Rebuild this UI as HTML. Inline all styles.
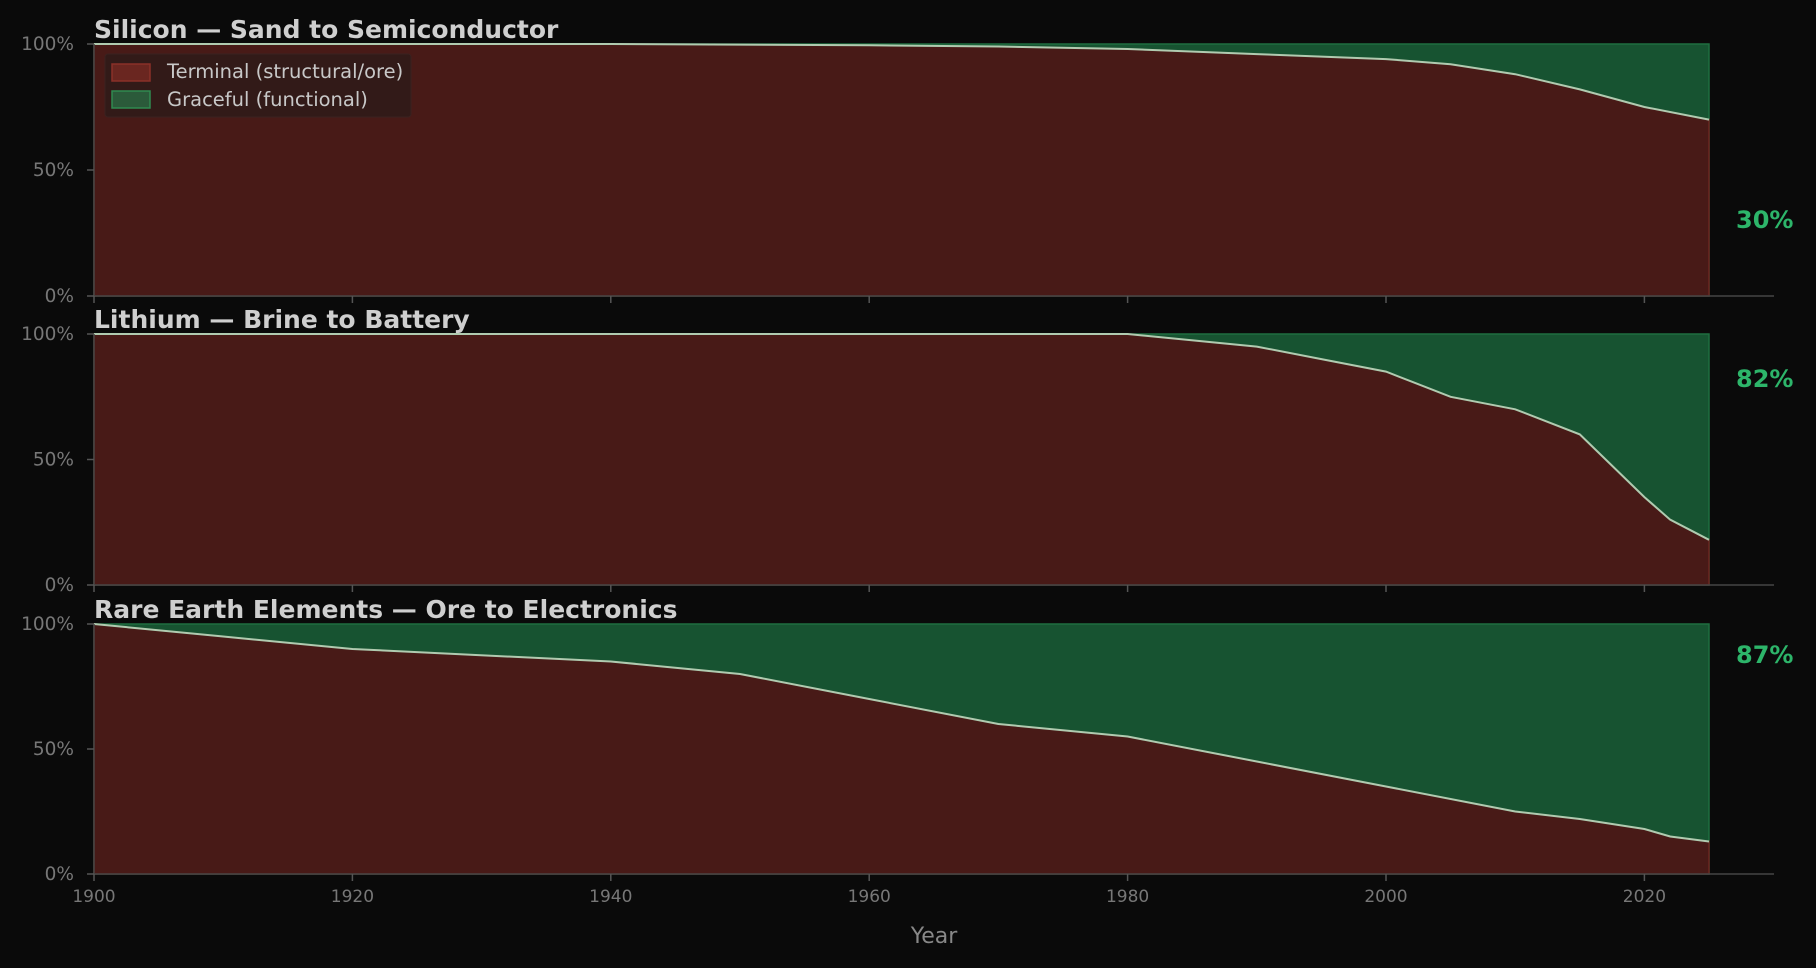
<!DOCTYPE html>
<html><head><meta charset="utf-8"><style>
html,body{margin:0;padding:0;background:#0a0a0a;}
svg{display:block;}
text{font-family:"DejaVu Sans","Liberation Sans",sans-serif;}
</style></head><body>
<svg id="s" width="1816" height="968" viewBox="0 0 1816 968" xmlns="http://www.w3.org/2000/svg"></svg>
<script>
const S=document.getElementById('s');
const X=y=>94+(y-1900)*12.92;
const panels=[
 {t:"Silicon — Sand to Semiconductor",top:44,bot:296,pct:"30%",py:220,
  d:[[1900,100],[1940,100],[1960,99.5],[1970,99],[1980,98],[1990,96],[2000,94],[2005,92],[2010,88],[2015,82],[2020,75],[2025,70]]},
 {t:"Lithium — Brine to Battery",top:334,bot:585,pct:"82%",py:379,
  d:[[1900,100],[1980,100],[1990,95],[1995,90],[2000,85],[2005,75],[2010,70],[2015,60],[2020,35],[2022,26],[2025,18]]},
 {t:"Rare Earth Elements — Ore to Electronics",top:624,bot:874,pct:"87%",py:655,
  d:[[1900,100],[1910,95],[1920,90],[1940,85],[1950,80],[1960,70],[1970,60],[1980,55],[1990,45],[2000,35],[2010,25],[2015,22],[2020,18],[2022,15],[2025,13]]}
];
let h='';
panels.forEach((p,i)=>{
 const Y=v=>p.bot-(p.bot-p.top)*v/100;
 const pts=p.d.map(a=>X(a[0]).toFixed(1)+','+Y(a[1]).toFixed(1)).join(' ');
 const x0=X(1900),x1=X(2025);
 h+=`<rect x="${x0}" y="${p.top}" width="${x1-x0}" height="${p.bot-p.top}" fill="#175331" stroke="#1f6e40" stroke-width="1.5"/>`;
 h+=`<polygon points="${x0},${p.bot} ${pts} ${x1},${p.bot}" fill="#481a17" stroke="#6a2620" stroke-width="1.5"/>`;
 h+=`<polyline points="${pts}" fill="none" stroke="#b0cbb0" stroke-width="2"/>`;
 h+=`<line x1="${x0}" y1="${p.top}" x2="${x0}" y2="${p.bot}" stroke="#444" stroke-width="1.5"/>`;
 h+=`<line x1="${x0}" y1="${p.bot}" x2="1774" y2="${p.bot}" stroke="#444" stroke-width="1.5"/>`;
 [0,50,100].forEach(v=>{const y=Y(v);
  h+=`<line x1="${x0-7}" y1="${y}" x2="${x0}" y2="${y}" stroke="#555" stroke-width="1.5"/>`;
  h+=`<text x="${x0-20}" y="${y+6}" font-size="18.5" fill="#777" text-anchor="end">${v}%</text>`;});
 for(let yr=1900;yr<=2020;yr+=20){const x=X(yr);
  h+=`<line x1="${x}" y1="${p.bot}" x2="${x}" y2="${p.bot+7}" stroke="#555" stroke-width="1.5"/>`;
  if(i==2)h+=`<text x="${x}" y="${p.bot+28}" font-size="17" fill="#777" text-anchor="middle">${yr}</text>`;}
 h+=`<text x="${x0}" y="${p.top-6}" font-size="25" font-weight="bold" fill="#cfcfcf">${p.t}</text>`;
 h+=`<text x="1736" y="${p.py+8}" font-size="24" font-weight="bold" fill="#2db56a">${p.pct}</text>`;
});
h+=`<text x="934" y="943" font-size="22" fill="#888" text-anchor="middle">Year</text>`;
h+=`<rect x="105" y="54" width="306" height="63" rx="3" fill="#321a18" stroke="#3a2220" stroke-width="1"/>`;
h+=`<rect x="112" y="64" width="38" height="17" fill="#6a2620" stroke="#8a3028" stroke-width="1.5"/>`;
h+=`<rect x="112" y="91" width="38" height="17" fill="#2b5a3a" stroke="#2f8a50" stroke-width="1.5"/>`;
h+=`<text x="167" y="78" font-size="19.5" fill="#c8c8c8">Terminal (structural/ore)</text>`;
h+=`<text x="167" y="106" font-size="19.5" fill="#c8c8c8">Graceful (functional)</text>`;
S.innerHTML=h;
</script>
</body></html>
